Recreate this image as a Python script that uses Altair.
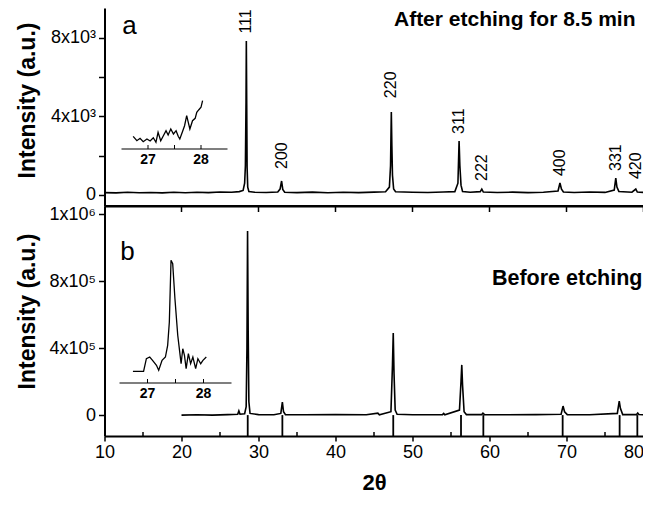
import altair as alt
import pandas as pd

# ---------------- data ----------------
# panel a: after etching for 8.5 min
top_x = [10.0, 11.5, 13.0, 14.5, 16.0, 17.5, 19.0, 20.5, 22.0, 23.5, 25.0, 26.5, 27.5, 28.0,
         28.2, 28.3, 28.38, 28.42, 28.47, 28.52, 28.6, 28.75, 29.5, 31.0, 32.5, 32.8, 33.0,
         33.15, 33.4, 35.0, 37.0, 39.0, 41.0, 43.0, 45.0, 46.5, 47.0, 47.15, 47.25, 47.32,
         47.4, 47.55, 47.8, 50.0, 52.0, 54.0, 55.5, 55.9, 56.05, 56.15, 56.3, 56.5, 57.5,
         58.8, 59.0, 59.2, 61.0, 63.0, 65.0, 67.0, 68.9, 69.15, 69.35, 69.6, 71.0, 73.0,
         75.0, 76.2, 76.4, 76.55, 76.8, 78.5, 79.0, 79.2, 80.0]
top_y = [120, 105, 135, 110, 125, 105, 140, 115, 140, 120, 150, 135, 170, 230,
         600, 1500, 4700, 7820, 4600, 1400, 400, 180, 140, 125, 150, 300, 710,
         280, 140, 120, 145, 115, 140, 120, 145, 160, 400, 1500, 4210, 2500,
         1000, 300, 160, 135, 125, 150, 170, 600, 2740, 1500, 500, 180, 140,
         170, 300, 150, 125, 145, 120, 140, 200, 610, 300, 150, 125, 150,
         130, 250, 860, 400, 180, 140, 300, 150, 130]

# panel b: before etching
bot_x = [20.0, 22.0, 24.0, 26.0, 27.3, 27.45, 27.6, 28.2, 28.4, 28.5, 28.58, 28.66, 28.75,
         28.9, 30.0, 32.0, 32.9, 33.1, 33.25, 33.5, 36.0, 40.0, 44.0, 45.5, 45.7, 47.2,
         47.4, 47.5, 47.6, 47.75, 48.0, 50.0, 53.9, 54.05, 54.2, 56.1, 56.3, 56.4, 56.5,
         56.7, 57.0, 59.0, 59.15, 59.35, 62.0, 66.0, 69.3, 69.55, 69.75, 70.1, 73.0, 76.6,
         76.85, 77.0, 77.3, 79.1, 79.25, 79.4, 80.0]
bot_y = [0, 2000, 0, 3000, 5000, 25000, 5000, 8000, 50000, 400000, 1100000, 500000, 80000,
         10000, 3000, 2000, 10000, 78000, 20000, 3000, 2000, 3000, 2000, 12000, 2000, 20000,
         300000, 490000, 250000, 30000, 5000, 2000, 3000, 10000, 2000, 30000, 200000, 300000,
         180000, 20000, 3000, 3000, 12000, 3000, 2000, 3000, 5000, 54000, 20000, 3000, 2000,
         10000, 84000, 40000, 3000, 3000, 12000, 3000, 2000]

# reference pattern sticks (panel b)
stick_x = [28.6, 33.1, 47.5, 56.3, 59.2, 69.5, 76.9, 79.2]

# peak indices (panel a)
peak_labels = ["111", "200", "220", "311", "222", "400", "331", "420"]
peak_label_x = [28.42, 33.0, 47.25, 56.05, 59.0, 69.15, 76.4, 79.0]
peak_label_y = [8200, 1320, 4920, 3100, 710, 960, 1220, 810]

# insets (arbitrary units)
inset_a_x = [26.72, 26.79, 26.85, 26.91, 26.98, 27.04, 27.10, 27.15, 27.19, 27.24, 27.29,
             27.34, 27.38, 27.43, 27.48, 27.53, 27.57, 27.60, 27.65, 27.69, 27.73, 27.76,
             27.79, 27.84, 27.89, 27.92, 27.96, 28.00, 28.03]
inset_a_y = [12.7, 8.3, 10.7, 7.3, 10.0, 8.0, 11.3, 6.7, 16.7, 8.3, 13.3,
             18.3, 14.0, 20.0, 15.0, 18.3, 12.7, 10.0, 17.3, 23.3, 33.3, 26.7,
             20.0, 28.3, 30.7, 36.7, 39.3, 41.7, 48.3]
inset_b_x = [26.74, 26.93, 26.98, 27.04, 27.09, 27.16, 27.20, 27.26, 27.32, 27.36, 27.39,
             27.42, 27.45, 27.49, 27.54, 27.60, 27.63, 27.66, 27.69, 27.73, 27.77, 27.81,
             27.86, 27.90, 27.95, 27.99, 28.05]
inset_b_y = [11.7, 11.7, 24.3, 26.0, 22.7, 17.7, 12.7, 22.7, 26.0, 37.7, 61.0,
             122.7, 119.3, 84.3, 47.7, 19.3, 34.3, 27.7, 14.3, 29.3, 19.3, 26.0,
             14.3, 24.3, 19.3, 22.7, 26.0]
inset_ticks = [27, 27.5, 28]
inset_label_values = [27, 28]
inset_label_texts = ["27", "28"]

# axes
x_ticks = [10, 20, 30, 40, 50, 60, 70, 80]
x_minor = [15, 25, 35, 45, 55, 65, 75]
top_y_ticks = [0, 2000, 4000, 6000, 8000]
top_y_labels = ["0", "", "4x10³", "", "8x10³"]
bot_y_ticks = [0, 200000, 400000, 600000, 800000, 1000000, 1200000]
bot_y_labels = ["0", "", "4x10⁵", "", "8x10⁵", "", "1x10⁶"]

# ---------------- layout ----------------
W = 539
HA = 198
HB = 230
FONT = "Liberation Sans"


def label_expr(vals, labs):
    parts = [f"abs(datum.value - {v}) < 0.5 ? '{l}'" for v, l in zip(vals, labs) if l]
    return " : ".join(parts) + " : ''"


xscale = alt.Scale(domain=[10, 80], nice=False, zero=False)
ya_scale = alt.Scale(domain=[-560, 9500], nice=False, zero=False)
yb_scale = alt.Scale(domain=[-125000, 1250000], nice=False, zero=False)

common_axis = dict(grid=False, domainColor="black", tickColor="black", labelColor="black",
                   titleColor="black", labelFont=FONT, titleFont=FONT)

df_a = pd.DataFrame({"two_theta": top_x, "intensity": top_y})
df_b = pd.DataFrame({"two_theta": bot_x, "intensity": bot_y})
df_lab = pd.DataFrame({"two_theta": peak_label_x, "intensity": peak_label_y, "lab": peak_labels})
df_stick = pd.DataFrame({"two_theta": stick_x})
df_xmaj = pd.DataFrame({"two_theta": x_ticks[1:]})
df_xmin = pd.DataFrame({"two_theta": x_minor})

LW = 1.6

# ---- panel a ----
line_a = alt.Chart(df_a).mark_line(color="black", strokeWidth=LW).encode(
    x=alt.X("two_theta:Q", scale=xscale,
            axis=alt.Axis(labels=False, ticks=False, title=None, domainWidth=2, **common_axis)),
    y=alt.Y("intensity:Q", scale=ya_scale,
            axis=alt.Axis(values=top_y_ticks, labelExpr=label_expr(top_y_ticks, top_y_labels),
                          tickSize=6, tickWidth=1.5, domainWidth=2, labelFontSize=18, labelPadding=3,
                          title="Intensity (a.u.)", titleFontSize=23, titleFontWeight="bold",
                          titleAngle=270, titleX=-77, titleY=92, titleAlign="center",
                          titleBaseline="middle", **common_axis)),
)
labels_a = alt.Chart(df_lab).mark_text(angle=270, align="left", baseline="middle", fontSize=16,
                                       font=FONT, color="black").encode(
    x="two_theta:Q", y="intensity:Q", text="lab:N")
letter_a = alt.Chart(pd.DataFrame({"t": ["a"]})).mark_text(
    fontSize=26, font=FONT, color="black", align="center", baseline="middle").encode(
    x=alt.value(25), y=alt.value(18), text="t:N")
title_a = alt.Chart(pd.DataFrame({"t": ["After etching for 8.5 min"]})).mark_text(
    fontSize=21, font=FONT, fontWeight="bold", color="black", align="right", baseline="middle").encode(
    x=alt.value(W - 8), y=alt.value(12), text="t:N")

isc_a = alt.Scale(domain=[26.5, 28.5], range=[17, 123], nice=False, zero=False)
iy_a = alt.Scale(domain=[0, 60], range=[141, 81], nice=False, zero=False)
in_a_line = alt.Chart(pd.DataFrame({"ix": inset_a_x, "iy": inset_a_y})).mark_line(
    color="black", strokeWidth=1.3).encode(
    x=alt.X("ix:Q", scale=isc_a, axis=None), y=alt.Y("iy:Q", scale=iy_a, axis=None))
in_a_axis = alt.Chart(pd.DataFrame({"ix": [26.5], "ix2": [28.5]})).mark_rule(
    color="black", strokeWidth=1.2).encode(
    x=alt.X("ix:Q", scale=isc_a, axis=None), x2="ix2:Q", y=alt.value(141))
in_a_ticks = alt.Chart(pd.DataFrame({"ix": inset_ticks})).mark_rule(color="black", strokeWidth=1).encode(
    x=alt.X("ix:Q", scale=isc_a, axis=None), y=alt.value(141), y2=alt.value(137))
in_a_labels = alt.Chart(pd.DataFrame({"ix": inset_label_values, "t": inset_label_texts})).mark_text(
    fontSize=14, fontWeight="bold", font=FONT, color="black", baseline="middle").encode(
    x=alt.X("ix:Q", scale=isc_a, axis=None), y=alt.value(152), text="t:N")
inset_a = alt.layer(in_a_line, in_a_axis, in_a_ticks, in_a_labels)

panel_a = alt.layer(
    alt.layer(line_a, labels_a, letter_a, title_a), inset_a
).resolve_scale(x="independent", y="independent").properties(width=W, height=HA)

# ---- panel b ----
last_label_align = {"condition": {"test": f"datum.value == {x_ticks[-1]}", "value": "right"},
                    "value": "center"}
line_b = alt.Chart(df_b).mark_line(color="black", strokeWidth=LW).encode(
    x=alt.X("two_theta:Q", scale=xscale,
            axis=alt.Axis(values=x_ticks, labelFlush=False, labelAlign=last_label_align,
                          tickSize=5, tickWidth=1.5, domainWidth=2,
                          labelFontSize=18, labelPadding=2, title="2θ", titleFontSize=22,
                          titleFontWeight="bold", titleY=46, titleX=W / 2, titleBaseline="middle",
                          titleAlign="center", **common_axis)),
    y=alt.Y("intensity:Q", scale=yb_scale,
            axis=alt.Axis(values=bot_y_ticks, labelExpr=label_expr(bot_y_ticks, bot_y_labels),
                          tickSize=6, tickWidth=1.5, domainWidth=2, labelFontSize=18, labelPadding=3,
                          title="Intensity (a.u.)", titleFontSize=23, titleFontWeight="bold",
                          titleAngle=270, titleX=-77, titleY=105, titleAlign="center",
                          titleBaseline="middle", **common_axis)),
)
sticks = alt.Chart(df_stick).mark_rule(color="black", strokeWidth=1.8).encode(
    x="two_theta:Q", y=alt.datum(0), y2=alt.value(HB))
top_ticks_b = alt.Chart(df_xmaj).mark_rule(color="black", strokeWidth=1.5).encode(
    x="two_theta:Q", y=alt.value(0), y2=alt.value(6))
minor_ticks_b = alt.Chart(df_xmin).mark_rule(color="black", strokeWidth=1.5).encode(
    x="two_theta:Q", y=alt.value(HB), y2=alt.value(HB - 4))
top_rule_b = alt.Chart(pd.DataFrame({"t": [0]})).mark_rule(color="black", strokeWidth=2).encode(
    x=alt.value(0), x2=alt.value(W), y=alt.value(0))
letter_b = alt.Chart(pd.DataFrame({"t": ["b"]})).mark_text(
    fontSize=26, font=FONT, color="black", align="center", baseline="middle").encode(
    x=alt.value(23), y=alt.value(46), text="t:N")
title_b = alt.Chart(pd.DataFrame({"t": ["Before etching"]})).mark_text(
    fontSize=21.5, font=FONT, fontWeight="bold", color="black", align="right", baseline="middle").encode(
    x=alt.value(W - 1), y=alt.value(73), text="t:N")

isc_b = alt.Scale(domain=[26.5, 28.5], range=[15, 127], nice=False, zero=False)
iy_b = alt.Scale(domain=[0, 140], range=[177, 37], nice=False, zero=False)
in_b_line = alt.Chart(pd.DataFrame({"ix": inset_b_x, "iy": inset_b_y})).mark_line(
    color="black", strokeWidth=1.3).encode(
    x=alt.X("ix:Q", scale=isc_b, axis=None), y=alt.Y("iy:Q", scale=iy_b, axis=None))
in_b_axis = alt.Chart(pd.DataFrame({"ix": [26.5], "ix2": [28.5]})).mark_rule(
    color="black", strokeWidth=1.2).encode(
    x=alt.X("ix:Q", scale=isc_b, axis=None), x2="ix2:Q", y=alt.value(177))
in_b_ticks = alt.Chart(pd.DataFrame({"ix": inset_ticks})).mark_rule(color="black", strokeWidth=1).encode(
    x=alt.X("ix:Q", scale=isc_b, axis=None), y=alt.value(177), y2=alt.value(173))
in_b_labels = alt.Chart(pd.DataFrame({"ix": inset_label_values, "t": inset_label_texts})).mark_text(
    fontSize=14, fontWeight="bold", font=FONT, color="black", baseline="middle").encode(
    x=alt.X("ix:Q", scale=isc_b, axis=None), y=alt.value(188), text="t:N")
inset_b = alt.layer(in_b_line, in_b_axis, in_b_ticks, in_b_labels)

panel_b = alt.layer(
    alt.layer(line_b, sticks, top_ticks_b, minor_ticks_b, top_rule_b, letter_b, title_b), inset_b
).resolve_scale(x="independent", y="independent").properties(width=W, height=HB)

chart = alt.vconcat(panel_a, panel_b, spacing=0, bounds="flush").resolve_scale(
    x="independent", y="independent"
).properties(
    padding={"left": 8.5, "top": 0, "right": -5, "bottom": 0}, background="white"
).configure_view(stroke=None)

chart.save("out.html", embed_options={"renderer": "svg", "actions": False})
